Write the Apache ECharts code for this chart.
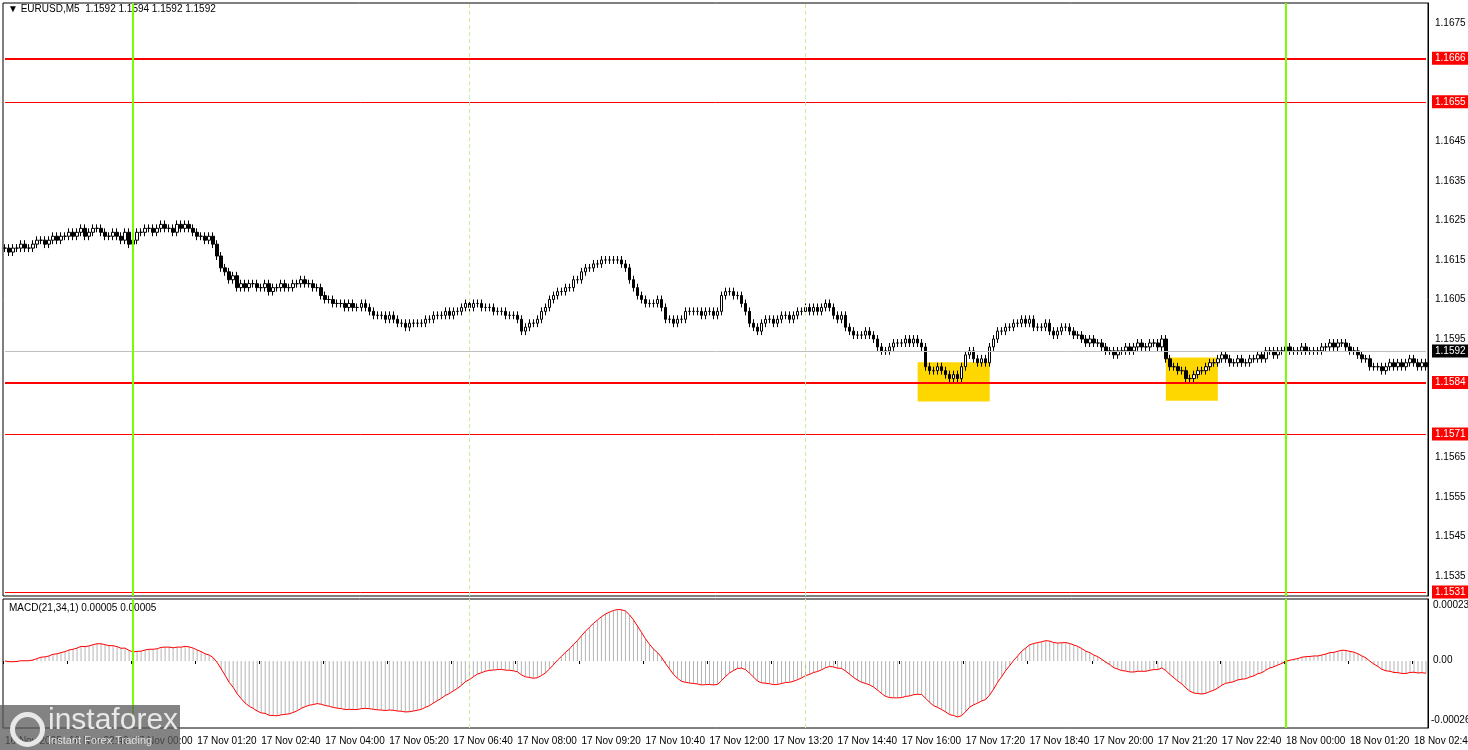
<!DOCTYPE html>
<html>
<head>
<meta charset="utf-8">
<script src="https://cdn.jsdelivr.net/npm/echarts@6/dist/echarts.min.js"></script>
<style>
html, body { margin: 0; padding: 0; background: #fff; }
#chart { width: 1468px; height: 750px; }
</style>
</head>
<body>
<div id="chart"></div>
<script>
// closes in pips above 1.1500, one per 5-minute bar (16 Nov 21:20 .. 18 Nov 02:55)
var closePips = [
    118,117,118,118,119,118,118,119, 120,120,119,120, 121,120,121,121,122,121,
    122,123,121,122,123,123,122, 121,121,122,121,120,122,119, 120,122,122,
    123,123,122,123,124,123,123,122,124,123, 124,123,122,121, 121,120,121,119,
    116,113,112,110,111, 108,
    109,108,109,109,108,108,109,107,108,108,109,108,108,109,109,110,109,109,108,108,
    106,105,105, 104,104,104,103,104,103,103,104,103,102, 101,101,101,100,101,100,
    99,99,98,99,99,99,99,100,100, 101,101,101,102,101,102,102,
    103,104,103,104,104,103,103,103,102, 102,102,101,101,101,100, 97,
    98,99,99,100, 102,103,105,106, 107,107,108,108, 110,110,112, 113,113,114,
    114,115,115,115,115,115,114,113, 110,108, 106,105,104,104, 104,105,103,
    100,100,99,100,100, 102,102,102, 102,101,102,102,101,102, 106,107,107,106,106,
    104,102, 99,98,97, 99,100,100,99, 100,101,101,100,101, 102,102,103,102,
    103,102,103,104,103, 101,100,101, 98,97, 96,96,96,97,96,95, 93,92,92,93,
    94,94,94,95,94,95,94,93, 88,87, 87,88,87, 86,85,86,85, 88,91, 92,90,89, 90,89,
    93,95, 97,97,98,98, 99,99,100,99,100, 98,98,98,99, 97,96, 97,98,98,97,
    96,96,95, 94,95,94,94,93, 92,92,91,92,92, 93,92,93,94,93,93,94,94,93,95, 90,
    88,88,87,87, 85,85, 86,87,87,88, 89,89,90,91, 90,89,89,90,89,89,90,90,91,90,
    92,92,91,92,92,93, 92,92,92,93,92,92,92,92, 93,93,94,93,94, 94,93,92,92,91,
    90,90,88, 88,88,87,88, 89,88,89,88,89,90,89,88,89,88
];

// support / resistance levels and the bid line
var redLevels = [1.1666, 1.1655, 1.1584, 1.1571, 1.1531];
var redWidths = [2, 1, 2, 1, 1];
var bidPrice = 1.1592;

// yellow signal boxes [fromIndex, toIndex, topPrice, bottomPrice]
var boxes = [[228, 246, 1.15891, 1.15792], [290, 303, 1.15903, 1.15794]];

var greenDays = [32, 320];
var gridDashes = [116, 200];

var months = {16: '16 Nov', 17: '17 Nov', 18: '18 Nov'};

// build categories (timestamps)
var times = [];
var startMin = 21 * 60 + 20;
for (var i = 0; i < closePips.length; i++) {
    var m = startMin + i * 5;
    var day = 16 + Math.floor(m / 1440);
    var mm = m % 1440;
    var hh = Math.floor(mm / 60), mi = mm % 60;
    times.push(months[day] + ' ' + (hh < 10 ? '0' : '') + hh + ':' + (mi < 10 ? '0' : '') + mi);
}
var lastIdx = times.length - 1;

var closes = closePips.map(function (p) { return 1.15 + p / 10000; });
var ohlc = [];
for (var i = 0; i < closes.length; i++) {
    var o = i === 0 ? closes[0] : closes[i - 1];
    var c = closes[i];
    var hi = Math.max(o, c) + 0.0001;
    var lo = Math.min(o, c) - 0.0001;
    ohlc.push([+o.toFixed(5), +c.toFixed(5), +lo.toFixed(5), +hi.toFixed(5)]);
}

// MACD(21,34,1)
function ema(src, n) {
    var k = 2 / (n + 1), out = [], e = src[0];
    for (var i = 0; i < src.length; i++) { e = e + k * (src[i] - e); out.push(e); }
    return out;
}
var e21 = ema(closes, 21), e34 = ema(closes, 34);
var macd = e21.map(function (v, i) { return +(v - e34[i]).toFixed(6); });

var font = 'Liberation Sans';

function tag(v, bg) {
    return {
        show: true, position: 'end', formatter: v.toFixed(4), distance: 6,
        color: '#fff', backgroundColor: bg, padding: [2, 3, 1, 3],
        fontFamily: font, fontSize: 10
    };
}
function hLine(lv, color, width, bg) {
    return [
        {coord: [0, lv], lineStyle: {color: color, width: width, type: 'solid'}, label: tag(lv, bg)},
        {coord: [lastIdx, lv]}
    ];
}
var levelLines = [hLine(bidPrice, '#c0c0c0', 1, '#000')];
redLevels.forEach(function (lv, k) { levelLines.push(hLine(lv, '#ff0000', redWidths[k], '#ff0000')); });

function vLines() {
    var out = [];
    greenDays.forEach(function (d) {
        out.push({xAxis: d, lineStyle: {color: '#7cfc00', width: 2, type: 'solid'}, label: {show: false}});
    });
    gridDashes.forEach(function (d) {
        out.push({xAxis: d, lineStyle: {color: '#c8f0a0', width: 1, type: [4, 3]}, label: {show: false}});
    });
    return out;
}

var dom = document.getElementById('chart');
var myChart = echarts.init(dom, null, {renderer: 'canvas'});

var option = {
    animation: false,
    backgroundColor: '#fff',
    textStyle: {fontFamily: font},
    grid: [
        {left: 3, right: 40, top: 3, height: 593, outerBoundsMode: 'none', containLabel: false, show: true, borderColor: '#000', borderWidth: 1, backgroundColor: 'transparent'},
        {left: 3, right: 40, top: 599, height: 129, outerBoundsMode: 'none', containLabel: false, show: true, borderColor: '#000', borderWidth: 1, backgroundColor: 'transparent'}
    ],
    xAxis: [
        {
            type: 'category', gridIndex: 0, data: times, boundaryGap: true,
            axisLine: {show: false}, axisTick: {show: false}, axisLabel: {show: false}, splitLine: {show: false}
        },
        {
            type: 'category', gridIndex: 1, data: times, boundaryGap: true,
            axisLine: {show: false},
            axisTick: {show: true, length: 3, lineStyle: {color: '#000'}, interval: function (idx) { return idx % 16 === 0; }},
            axisLabel: {
                show: true, color: '#000', fontFamily: font, fontSize: 10, align: 'left', margin: 8,
                interval: function (idx) { return idx % 16 === 0; },
                formatter: function (v, idx) { return idx === 0 ? '16 Nov 2025' : v; }
            },
            splitLine: {show: false}
        }
    ],
    yAxis: [
        {
            type: 'value', gridIndex: 0, position: 'right', min: 1.1530, max: 1.1680, interval: 0.0005,
            axisLine: {show: true, lineStyle: {color: '#000'}},
            axisTick: {show: false},
            axisLabel: {
                color: '#000', fontFamily: font, fontSize: 10, margin: 7,
                formatter: function (v) {
                    var p = Math.round(v * 10000);
                    if (p % 10 !== 5) return '';
                    if (p === 11665 || p === 11585 || p === 11575) return '';
                    return (p / 10000).toFixed(4);
                }
            },
            splitLine: {show: false}
        },
        {
            type: 'value', gridIndex: 1, position: 'right', min: -0.00028, max: 0.000259,
            axisLine: {show: true, lineStyle: {color: '#000'}},
            axisTick: {show: false}, axisLabel: {show: false}, splitLine: {show: false}
        }
    ],
    graphic: [
        {type: 'text', left: 8, top: 4, style: {text: '\u25BC EURUSD,M5  1.1592 1.1594 1.1592 1.1592', fill: '#000', font: '10px ' + font}},
        {type: 'text', left: 9, top: 603, style: {text: 'MACD(21,34,1) 0.00005 0.00005', fill: '#000', font: '10px ' + font}},
        {type: 'text', left: 1433, top: 600, style: {text: '0.00023', fill: '#000', font: '10px ' + font}},
        {type: 'text', left: 1433, top: 655, style: {text: '0.00', fill: '#000', font: '10px ' + font}},
        {type: 'text', left: 1431, top: 715, style: {text: '-0.00026', fill: '#000', font: '10px ' + font}},
        {type: 'rect', left: 0, top: 705, shape: {width: 180, height: 45}, style: {fill: 'rgba(90,90,90,0.75)'}, z: 100},
        {type: 'text', left: 48, top: 706, style: {text: 'instaforex', fill: '#e8e8e8', font: '30px ' + font}, z: 101},
        {type: 'text', left: 48, top: 735, style: {text: 'Instant Forex Trading', fill: '#e0e0e0', font: '11px ' + font}, z: 101},
        {type: 'circle', left: 10, top: 712, shape: {r: 15}, style: {fill: 'none', stroke: '#e8e8e8', lineWidth: 5}, z: 101}
    ],
    series: [
        {
            name: 'levels', type: 'line', xAxisIndex: 0, yAxisIndex: 0, data: [],
            markLine: {silent: true, symbol: 'none', data: levelLines.concat(vLines())},
            markArea: {
                silent: true,
                itemStyle: {color: '#ffd700'},
                data: boxes.map(function (b) { return [{xAxis: b[0], yAxis: b[2]}, {xAxis: b[1], yAxis: b[3]}]; })
            },
            z: 1
        },
        {
            name: 'EURUSD', type: 'candlestick', xAxisIndex: 0, yAxisIndex: 0, data: ohlc, barWidth: 3,
            itemStyle: {color: '#fff', color0: '#000', borderColor: '#000', borderColor0: '#000', borderWidth: 1},
            z: 3
        },
        {
            name: 'MACD', type: 'bar', xAxisIndex: 1, yAxisIndex: 1, data: macd, barWidth: 1,
            itemStyle: {color: '#b4b4b4'},
            markLine: {silent: true, symbol: 'none', data: vLines()}
        },
        {
            name: 'Signal', type: 'line', xAxisIndex: 1, yAxisIndex: 1, data: macd, showSymbol: false,
            lineStyle: {color: '#ff0000', width: 1}
        }
    ]
};

myChart.setOption(option, true);
</script>
</body>
</html>
